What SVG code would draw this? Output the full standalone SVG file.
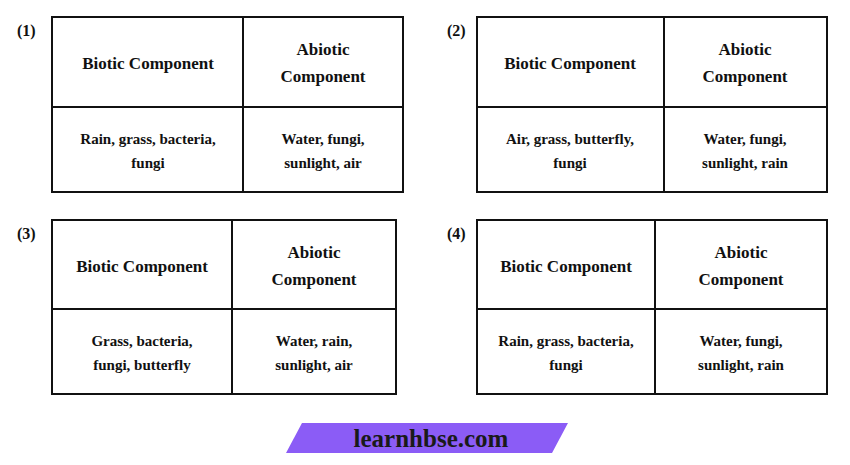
<svg xmlns="http://www.w3.org/2000/svg" width="850" height="465" viewBox="0 0 850 465" font-family="Liberation Serif, serif">
<style>
.b{fill:none;stroke:#111;stroke-width:2}
.h{font-weight:bold;font-size:17px;fill:#111;text-anchor:middle}
.t{font-weight:bold;font-size:15px;fill:#111;text-anchor:middle}
.n{font-weight:bold;font-size:16px;fill:#111}
</style>
<rect width="850" height="465" fill="#fff"/>
<g id="table1">
<text class="n" x="17" y="36">(1)</text>
<rect class="b" x="52" y="17" width="351" height="175"/>
<line class="b" x1="243" y1="17" x2="243" y2="192"/><line class="b" x1="52" y1="107" x2="403" y2="107"/>
<text class="h" x="148" y="69">Biotic Component</text>
<text class="h" x="323" y="55">Abiotic</text><text class="h" x="323" y="82">Component</text>
<text class="t" x="148" y="144">Rain, grass, bacteria,</text><text class="t" x="148" y="168">fungi</text>
<text class="t" x="323" y="144">Water, fungi,</text><text class="t" x="323" y="168">sunlight, air</text>
</g>
<g id="table2">
<text class="n" x="447" y="36">(2)</text>
<rect class="b" x="477" y="17" width="350" height="175"/>
<line class="b" x1="664" y1="17" x2="664" y2="192"/><line class="b" x1="477" y1="107" x2="827" y2="107"/>
<text class="h" x="570" y="69">Biotic Component</text>
<text class="h" x="745" y="55">Abiotic</text><text class="h" x="745" y="82">Component</text>
<text class="t" x="570" y="144">Air, grass, butterfly,</text><text class="t" x="570" y="168">fungi</text>
<text class="t" x="745" y="144">Water, fungi,</text><text class="t" x="745" y="168">sunlight, rain</text>
</g>
<g id="table3">
<text class="n" x="17" y="239">(3)</text>
<rect class="b" x="52" y="220" width="344" height="174"/>
<line class="b" x1="232" y1="220" x2="232" y2="394"/><line class="b" x1="52" y1="309" x2="396" y2="309"/>
<text class="h" x="142" y="272">Biotic Component</text>
<text class="h" x="314" y="258">Abiotic</text><text class="h" x="314" y="285">Component</text>
<text class="t" x="142" y="346">Grass, bacteria,</text><text class="t" x="142" y="370">fungi, butterfly</text>
<text class="t" x="314" y="346">Water, rain,</text><text class="t" x="314" y="370">sunlight, air</text>
</g>
<g id="table4">
<text class="n" x="447" y="239">(4)</text>
<rect class="b" x="477" y="220" width="350" height="174"/>
<line class="b" x1="655" y1="220" x2="655" y2="394"/><line class="b" x1="477" y1="309" x2="827" y2="309"/>
<text class="h" x="566" y="272">Biotic Component</text>
<text class="h" x="741" y="258">Abiotic</text><text class="h" x="741" y="285">Component</text>
<text class="t" x="566" y="346">Rain, grass, bacteria,</text><text class="t" x="566" y="370">fungi</text>
<text class="t" x="741" y="346">Water, fungi,</text><text class="t" x="741" y="370">sunlight, rain</text>
</g>
<g id="banner">
<polygon points="302,423 568,423 552,453 286,453" fill="#8B5CF6"/>
<text x="431" y="447" font-weight="bold" font-size="25" fill="#1a1a1a" text-anchor="middle">learnhbse.com</text>
</g>
</svg>
